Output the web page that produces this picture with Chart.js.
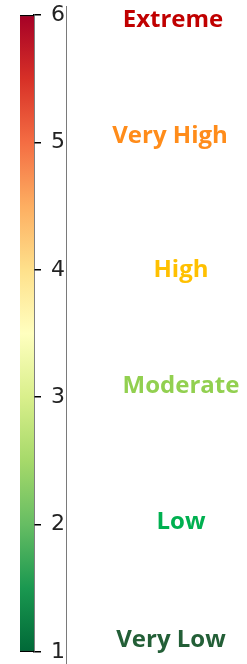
<!DOCTYPE html>
<html>
<head>
<meta charset="utf-8">
<script src="https://cdn.jsdelivr.net/npm/chart.js@4/dist/chart.umd.min.js"></script>
<style>
  html, body { margin: 0; padding: 0; background: #fff; }
  #wrap { width: 247px; height: 664px; position: relative; }
</style>
</head>
<body>
<div id="wrap"><canvas id="riskChart"></canvas></div>
<script>
// colour bar range and ticks
const scaleRange = [1, 6];
const tickValues = [1, 2, 3, 4, 5, 6];

// risk categories, where they sit on the scale, and their colours
const riskLevels = ['Extreme', 'Very High', 'High', 'Moderate', 'Low', 'Very Low'];
const riskValues = [5.976, 5.066, 4.014, 3.104, 2.036, 1.110];
const riskColors = ['#c00000', '#ff8c1a', '#ffc000', '#92d050', '#00b050', '#235f37'];

// RdYlGn stops, bottom (green) to top (red)
const rdylgn = ['#006837', '#1a9850', '#66bd63', '#a6d96a', '#d9ef8b', '#ffffbf',
  '#fee08b', '#fdae61', '#f46d43', '#d73027', '#a50026'];

// horizontal centre of each category label (layout only)
const labelCenterX = [173, 170, 181, 181, 181, 171];

function barGradient(context) {
  const chart = context.chart;
  const area = chart.chartArea;
  if (!area) return null;
  const g = chart.ctx.createLinearGradient(0, area.bottom, 0, area.top);
  rdylgn.forEach((c, i) => g.addColorStop(i / (rdylgn.length - 1), c));
  return g;
}

const riskLabels = {
  id: 'riskLabels',
  afterDraw(chart) {
    const ctx = chart.ctx;
    const y = chart.scales.y;
    ctx.save();
    // thin grey frame line right of the tick labels
    ctx.strokeStyle = '#7a7a7a';
    ctx.lineWidth = 1;
    ctx.beginPath();
    ctx.moveTo(66.5, 6);
    ctx.lineTo(66.5, 664);
    ctx.stroke();

    ctx.font = 'bold 24px "Open Sans"';
    ctx.textAlign = 'center';
    ctx.textBaseline = 'alphabetic';
    riskLevels.forEach((name, i) => {
      ctx.fillStyle = riskColors[i];
      ctx.fillText(name, labelCenterX[i], y.getPixelForValue(riskValues[i]) + 9);
    });
    ctx.restore();
  }
};

const ctx = document.getElementById('riskChart').getContext('2d');
new Chart(ctx, {
  type: 'bar',
  data: {
    labels: ['risk'],
    datasets: [{
      data: [scaleRange],
      backgroundColor: barGradient,
      borderColor: '#000',
      borderWidth: { top: 1.5, bottom: 1.5, left: 0, right: 0 },
      borderSkipped: false,
      categoryPercentage: 1,
      barPercentage: 1
    }]
  },
  options: {
    responsive: true,
    maintainAspectRatio: false,
    animation: false,
    layout: { padding: { left: 20, top: 15, bottom: 12, right: 0 } },
    plugins: { legend: { display: false }, tooltip: { enabled: false } },
    scales: {
      x: { display: false },
      y: {
        position: 'right',
        min: scaleRange[0],
        max: scaleRange[1],
        afterBuildTicks: (axis) => { axis.ticks = tickValues.map((v) => ({ value: v })); },
        afterFit: (axis) => {
          axis.width = 213;
          axis.paddingTop = 0;
          axis.paddingBottom = 0;
        },
        border: { display: true, color: '#000', width: 1.5 },
        grid: { drawOnChartArea: false, drawTicks: true, tickLength: 7, color: '#000', lineWidth: 1.5 },
        ticks: {
          padding: 10,
          color: '#222',
          font: { family: 'DejaVu Sans', size: 22 }
        }
      }
    }
  },
  plugins: [riskLabels]
});
</script>
</body>
</html>
